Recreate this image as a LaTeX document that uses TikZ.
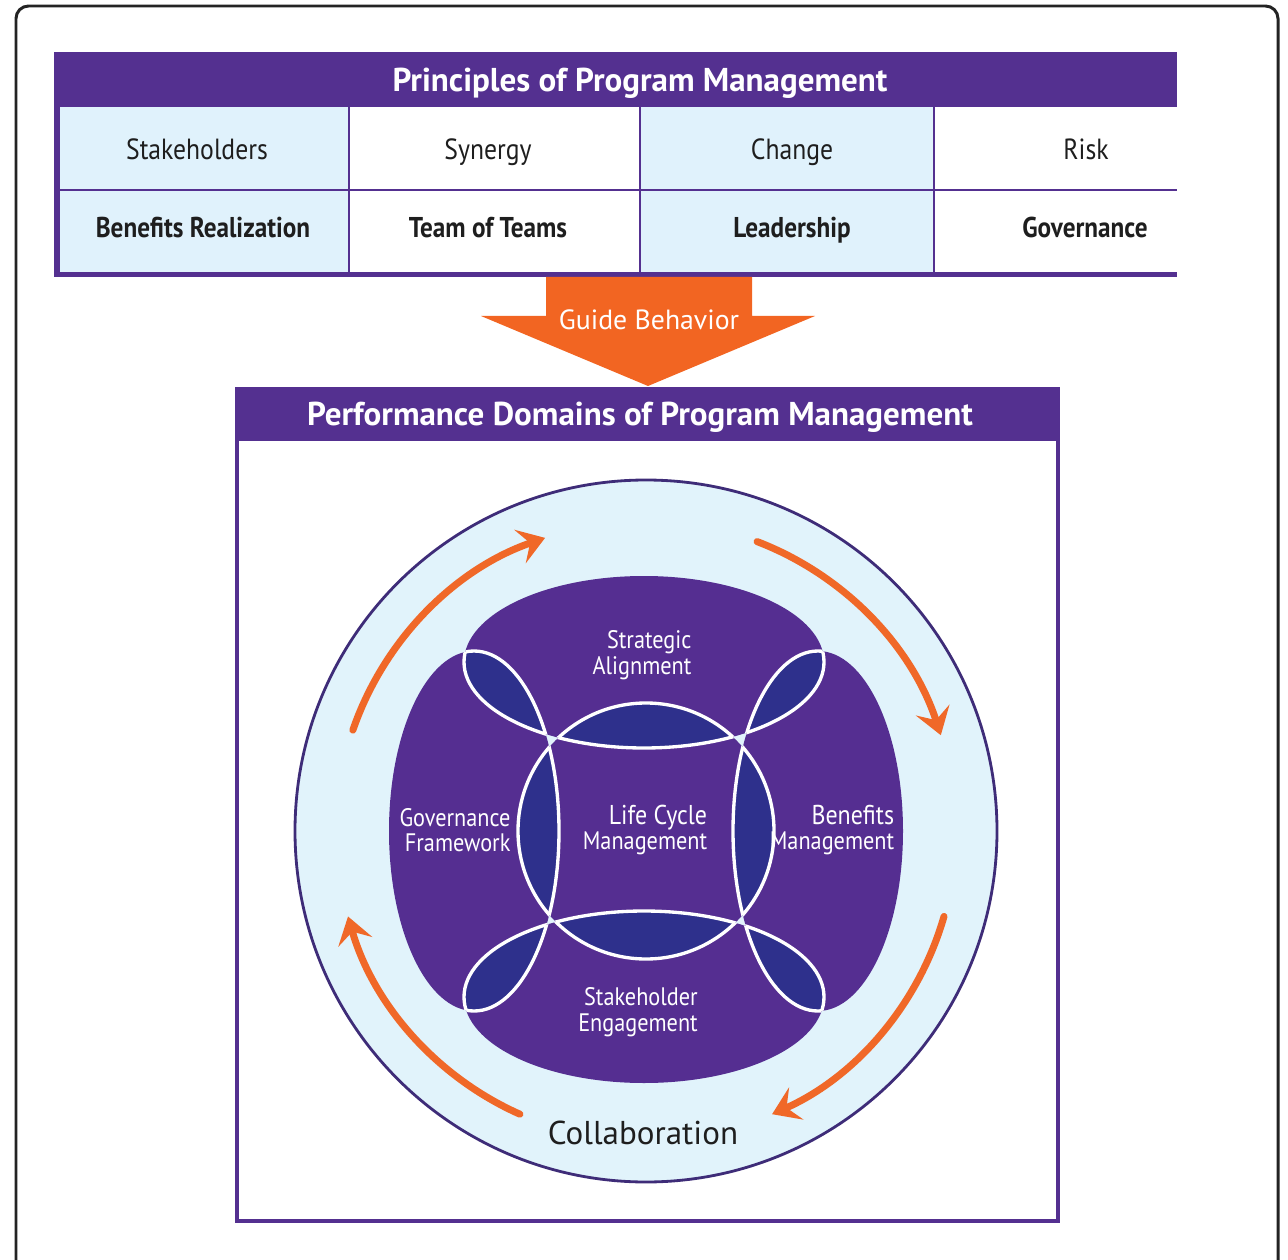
\documentclass[tikz,border=0pt]{standalone}
\usepackage{fontspec}
\setmainfont{PT Sans}
\newfontfamily\condensed[FakeStretch=0.88]{PT Sans}
\usetikzlibrary{arrows.meta}

\definecolor{hdrpurple}{RGB}{84,48,144}
\definecolor{cellblue}{RGB}{224,242,252}
\definecolor{lobepurple}{RGB}{85,46,145}
\definecolor{petalblue}{RGB}{46,48,140}
\definecolor{ringblue}{RGB}{225,243,251}
\definecolor{ringedge}{RGB}{62,44,120}
\definecolor{guideorange}{RGB}{242,101,34}
\definecolor{arcorange}{RGB}{240,104,40}
\definecolor{framegray}{RGB}{35,35,35}
\definecolor{textdark}{RGB}{30,30,30}

\tikzset{
  heading/.style   = {font=\bfseries\fontsize{18.8}{22}\selectfont, text=white, anchor=base},
  principle/.style = {font=\condensed\fontsize{16.6}{18}\selectfont, text=textdark, anchor=base},
  keyprinc/.style  = {font=\condensed\bfseries\fontsize{16.3}{18}\selectfont, text=textdark, anchor=base},
  domaintext/.style = {font=\condensed\fontsize{14.4}{14.5}\selectfont, text=white, align=right},
  cycle arrow/.style = {arcorange, line width=4pt, line cap=round,
                        -{Stealth[length=15pt, width=20pt, inset=6pt]}},
  top lobe/.style    = {insert path={(-2,169) ellipse [x radius=180, y radius=86]}},
  bottom lobe/.style = {insert path={(-2,-166) ellipse [x radius=180, y radius=86]}},
  left lobe/.style   = {insert path={(-172,0) ellipse [x radius=85, y radius=180]}},
  right lobe/.style  = {insert path={(172,0) ellipse [x radius=85, y radius=180]}},
  hub/.style         = {insert path={(0,0) circle [radius=128]}},
}

\begin{document}
\begin{tikzpicture}[x=0.02cm, y=-0.02cm]
  \useasboundingbox (0,0) rectangle (1288,1260);

  % frame
  \draw [framegray, line width=1.7pt, rounded corners=0.25cm] (16,6) rectangle (1278,1300);

  % principles table
  \fill [cellblue] (59,107) rectangle (349,272);
  \fill [cellblue] (640,107) rectangle (934,272);
  \fill [hdrpurple] (54,52) rectangle (1177,107);
  \fill [hdrpurple] (54,52) rectangle (60,277);
  \fill [hdrpurple] (54,272) rectangle (1177,277);
  \draw [hdrpurple, line width=1.2pt] (59,190) -- (1177,190);
  \foreach \x in {349,640,934}
    \draw [hdrpurple, line width=1.2pt] (\x,107) -- (\x,272);

  \node [heading] (principles) at (640,92) {Principles of Program Management};

  \node [principle] (stake)  at (197,160) {Stakeholders};
  \node [principle] (synergy) at (488,160) {Synergy};
  \node [principle] (change) at (792,160) {Change};
  \node [principle] (risk)   at (1086,160) {Risk};

  \node [keyprinc] (benefits) at (203,238) {Benefits Realization};
  \node [keyprinc] (teams)    at (488,238) {Team of Teams};
  \node [keyprinc] (lead)     at (792,238) {Leadership};
  \node [keyprinc] (govern)   at (1085,238) {Governance};

  % guide arrow
  \fill [guideorange] (546,277) -- (752,277) -- (752,316) -- (815,316)
    -- (648,386) -- (481,316) -- (546,316) -- cycle;
  \node [font=\fontsize{15.8}{18}\selectfont, text=white, anchor=base] (guide) at (649,330) {Guide Behavior};

  % performance domains box
  \draw [hdrpurple, line width=2.3pt] (237,389) rectangle (1058,1221);
  \fill [hdrpurple] (235,387) rectangle (1060,441);
  \node [heading] (domains) at (640,425) {Performance Domains of Program Management};

  \begin{scope}[shift={(646,831)}, y=0.02cm]
    \filldraw [fill=ringblue, draw=ringedge, line width=1.6pt] (0,0) circle [radius=351];

    \foreach \s/\e in {161/109, 69/18, -16/-66, -114/-164}
      \draw [cycle arrow] (\s:310) arc [start angle=\s, end angle=\e, radius=310];

    \foreach \lobe in {top lobe,bottom lobe,left lobe,right lobe,hub}
      \fill [lobepurple, \lobe];

    % overlaps
    \foreach \a/\b in {top lobe/left lobe,top lobe/right lobe,bottom lobe/left lobe,
                       bottom lobe/right lobe,hub/top lobe,hub/bottom lobe,hub/left lobe,hub/right lobe} {
      \begin{scope}
        \clip [\a];
        \fill [petalblue, \b];
      \end{scope}
      \begin{scope}
        \clip [\a];
        \draw [white, line width=1.9pt, \b];
      \end{scope}
      \begin{scope}
        \clip [\b];
        \draw [white, line width=1.9pt, \a];
      \end{scope}
    }

    \node [domaintext] (strategic) at (-4,176) {Strategic\\Alignment};
    \node [domaintext] (framework) at (-191,1) {Governance\\Framework};
    \node [domaintext] (lifecycle) at (-1,1) {{\fontsize{15.5}{15}\selectfont Life Cycle}\\Management};
    \node [domaintext] (benefitsmgmt) at (186,1) {{\fontsize{15.5}{15}\selectfont Benefits}\\Management};
    \node [domaintext] (engagement) at (-8,-181) {Stakeholder\\Engagement};
  \end{scope}

  \node [font=\fontsize{18.8}{22}\selectfont, text=textdark, anchor=base] (collab) at (643,1144) {Collaboration};
\end{tikzpicture}
\end{document}
